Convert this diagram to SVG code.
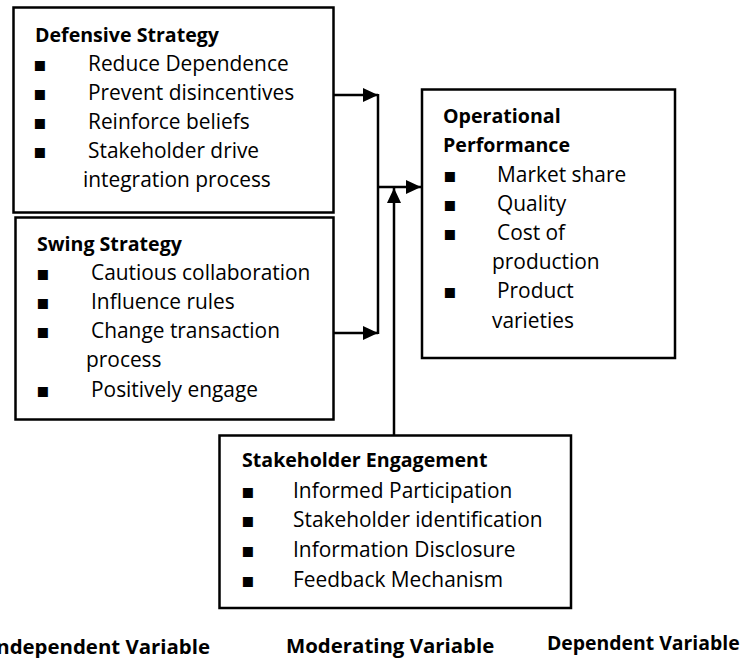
<svg xmlns="http://www.w3.org/2000/svg" width="756" height="658" viewBox="0 0 756 658">
<defs>
<style>
text{font-family:"Open Sans","Noto Sans","DejaVu Sans",sans-serif;font-size:20.9px;fill:#000}
.b{font-weight:bold;font-size:19.6px}
.lab{font-weight:bold;font-size:20.4px}
.bul{font-family:"DejaVu Sans",sans-serif;font-size:20px}
.box{fill:#fff;stroke:#000;stroke-width:2.5}
.con{fill:none;stroke:#000;stroke-width:2.5}
</style>
<marker id="ah" markerUnits="userSpaceOnUse" markerWidth="15" markerHeight="14" refX="15" refY="7" orient="auto">
<path d="M0,0 L15,7 L0,14 z" fill="#000"/>
</marker>
</defs>
<rect width="756" height="658" fill="#fff"/>
<g id="connectors">
<line class="con" x1="333" y1="95" x2="378" y2="95" marker-end="url(#ah)"/>
<line class="con" x1="333" y1="333" x2="378" y2="333" marker-end="url(#ah)"/>
<line class="con" x1="378" y1="94" x2="378" y2="334"/>
<line class="con" x1="378" y1="187" x2="421" y2="187" marker-end="url(#ah)"/>
<line class="con" x1="394" y1="435" x2="394" y2="188" marker-end="url(#ah)"/>
</g>
<g id="defensive">
<rect class="box" x="13.5" y="7.5" width="320" height="205"/>
<text class="b" x="35" y="41.5">Defensive Strategy</text>
<text class="bul" x="33" y="71">▪</text><text x="88" y="71">Reduce Dependence</text>
<text class="bul" x="33" y="100">▪</text><text x="88" y="100">Prevent disincentives</text>
<text class="bul" x="33" y="129">▪</text><text x="88" y="129">Reinforce beliefs</text>
<text class="bul" x="33" y="158">▪</text><text x="88" y="158">Stakeholder drive</text>
<text x="83" y="187">integration process</text>
</g>
<g id="swing">
<rect class="box" x="15.5" y="217.5" width="318" height="202"/>
<text class="b" x="37" y="250.5">Swing Strategy</text>
<text class="bul" x="36" y="280">▪</text><text x="91" y="280">Cautious collaboration</text>
<text class="bul" x="36" y="309">▪</text><text x="91" y="309">Influence rules</text>
<text class="bul" x="36" y="338">▪</text><text x="91" y="338">Change transaction</text>
<text x="86" y="367">process</text>
<text class="bul" x="36" y="397">▪</text><text x="91" y="397">Positively engage</text>
</g>
<g id="operational">
<rect class="box" x="422" y="89.5" width="253" height="268.5"/>
<text class="b" x="443" y="123">Operational</text>
<text class="b" x="443" y="152">Performance</text>
<text class="bul" x="443" y="182">▪</text><text x="497" y="182">Market share</text>
<text class="bul" x="443" y="211">▪</text><text x="497" y="211">Quality</text>
<text class="bul" x="443" y="240">▪</text><text x="497" y="240">Cost of</text>
<text x="492" y="269">production</text>
<text class="bul" x="443" y="298">▪</text><text x="497" y="298">Product</text>
<text x="492" y="328">varieties</text>
</g>
<g id="stakeholder">
<rect class="box" x="219.5" y="435.5" width="351.5" height="172.5"/>
<text class="b" x="242" y="467">Stakeholder Engagement</text>
<text class="bul" x="241" y="498">▪</text><text x="293" y="498">Informed Participation</text>
<text class="bul" x="241" y="527">▪</text><text x="293" y="527">Stakeholder identification</text>
<text class="bul" x="241" y="557">▪</text><text x="293" y="557">Information Disclosure</text>
<text class="bul" x="241" y="587">▪</text><text x="293" y="587">Feedback Mechanism</text>
</g>
<g id="labels">
<text class="lab" x="210" y="654" text-anchor="end">Independent Variable</text>
<text class="lab" x="286" y="652.5">Moderating Variable</text>
<text class="lab" x="547" y="650" style="font-size:19.4px">Dependent Variable</text>
</g>
</svg>
